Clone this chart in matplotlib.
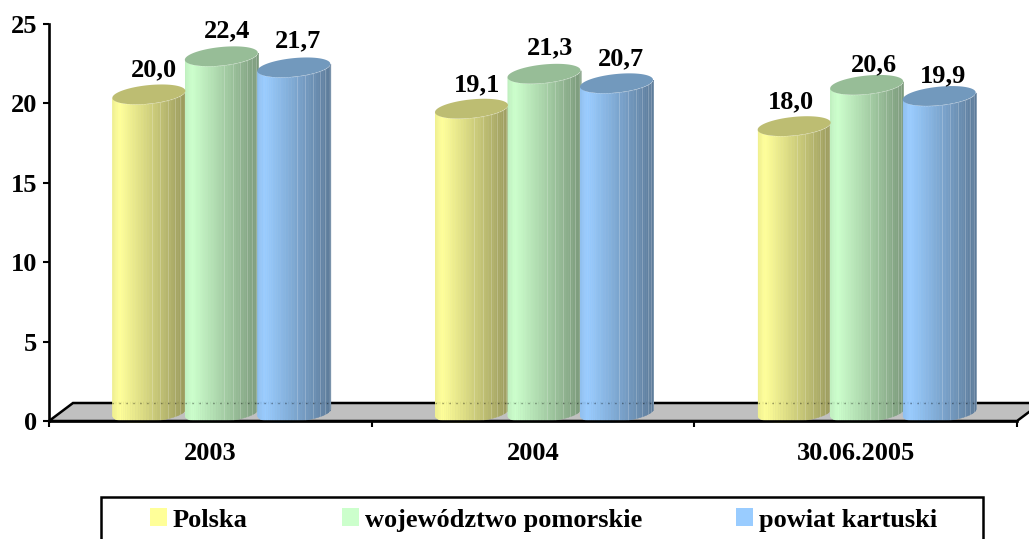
import numpy as np
import matplotlib
matplotlib.use('Agg')
import matplotlib.pyplot as plt
from matplotlib.patches import Patch, Polygon, Rectangle

W, H = 1029, 539

categories = ['2003', '2004', '30.06.2005']
series_names = ['Polska', 'województwo pomorskie', 'powiat kartuski']
polska = [20.0, 19.1, 18.0]
pomorskie = [22.4, 21.3, 20.6]
kartuski = [21.7, 20.7, 19.9]
y_ticks = [0, 5, 10, 15, 20, 25]

side_colors = ['#FFFF99', '#CCFFCC', '#99CCFF']
cap_colors = ['#BDBD72', '#97BD97', '#7299BD']

# hand placed labels in the original, nudges in points per series and category
label_dx = [[4, 4, -2], [4, 4, 5], [3, 3, 3]]
label_dy = [[6, 6, 6], [7, 7, 3], [8, 6, 3]]

plt.rcParams['font.family'] = ['Liberation Serif', 'DejaVu Serif']
plt.rcParams['font.weight'] = 'bold'
plt.rcParams['font.size'] = 19

fig = plt.figure(figsize=(W / 100, H / 100), dpi=100)
ax = fig.add_axes([49 / W, 1 - 421 / H, (1017 - 49) / W, (421 - 24) / H])
ax.set_xlim(0, 3)
ax.set_ylim(0, 25)

# pixel sizes expressed in data units
px_x = 3 / (1017 - 49)
px_y = 25 / (421 - 24)


def to_rgb_scaled(color, factor):
    return tuple(c * factor for c in matplotlib.colors.to_rgb(color))


def cylinder(cx, value, side, cap):
    # front of the cylinder as vertical facets, then the tilted top ellipse
    a = 36.5 * px_x
    b = 9.3 * px_y
    tilt = 3.5 * px_y
    base = 9 * px_y
    theta = np.linspace(np.pi, 2 * np.pi, 41)
    xs = cx + a * np.cos(theta)
    low = base + b * np.sin(theta) + tilt * np.cos(theta)
    high = value + low
    for k in range(len(theta) - 1):
        frac = (0.5 * (xs[k] + xs[k + 1]) - (cx - a)) / (2 * a)
        shade = np.interp(frac, [0, 0.1, 1], [0.94, 1.0, 0.6])
        col = to_rgb_scaled(side, shade)
        ax.fill_between(xs[k:k + 2], low[k:k + 2], high[k:k + 2], color=col,
                        lw=0.4, clip_on=False, zorder=3)
        if frac > 0.45 and k % 3 == 0:
            ax.plot([xs[k], xs[k]], [low[k], high[k]], color='white', alpha=0.2,
                    lw=0.7, clip_on=False, zorder=3)
    t = np.linspace(0, 2 * np.pi, 120)
    cap_xy = np.column_stack([cx + a * np.cos(t),
                              value + base + b * np.sin(t) + tilt * np.cos(t)])
    ax.add_patch(Polygon(cap_xy, closed=True, fc=cap, ec='none', clip_on=False, zorder=3.1))
    # back edge of the floor shows faintly through the cylinder
    ax.plot([cx - a, cx + a], [18 * px_y, 18 * px_y], color='black', alpha=0.4, lw=1.0,
            ls=(0, (1, 4)), clip_on=False, zorder=3.2)
    return value + base + b


# grey floor
floor = [(0, 0), (3, 0), (3 + 24 * px_x, 18 * px_y), (24 * px_x, 18 * px_y)]
ax.add_patch(Polygon(floor, closed=True, fc='#C0C0C0', ec='black', lw=1.8, clip_on=False, zorder=1))

series = [polska, pomorskie, kartuski]
bar_step = 72.5 * px_x
shift = 11 * px_x
for j, values in enumerate(series):
    for i, v in enumerate(values):
        cx = i + 0.5 + shift + (j - 1) * bar_step
        top = cylinder(cx, v, side_colors[j], cap_colors[j])
        ax.annotate(f'{v:.1f}'.replace('.', ','), (cx, top),
                    xytext=(label_dx[j][i], label_dy[j][i]),
                    textcoords='offset points', ha='center', va='baseline',
                    zorder=5, annotation_clip=False)

# axes
for s in ['top', 'right']:
    ax.spines[s].set_visible(False)
for s in ['left', 'bottom']:
    ax.spines[s].set_linewidth(1.9)
    ax.spines[s].set_zorder(4)
ax.patch.set_visible(False)
ax.set_yticks(y_ticks)
ax.set_xticks([0, 1, 2, 3])
ax.set_xticklabels([])
ax.set_xticks([0.5, 1.5, 2.5], minor=True)
ax.set_xticklabels(categories, minor=True)
ax.tick_params(axis='x', which='major', length=4.5, width=1.5)
ax.tick_params(axis='x', which='minor', length=0, pad=15)
ax.tick_params(axis='y', which='major', length=4.5, width=1.5, pad=4)

# legend, with its box running off the bottom of the picture
handles = [Patch(fc=c, ec='none', label=n) for c, n in zip(side_colors, series_names)]
em = 19 * 100 / 72
leg = fig.legend(handles=handles, ncol=3, loc='center left', frameon=False,
                 bbox_to_anchor=(150 / W, 1 - 520 / H), borderpad=0, borderaxespad=0,
                 handlelength=17 / em, handleheight=17 / em, handletextpad=6 / em,
                 columnspacing=94 / em)
fig.add_artist(Rectangle((101 / W, -0.02), (983 - 101) / W, 1 - 497 / H + 0.02,
                         transform=fig.transFigure, fc='none', ec='black', lw=1.8))

fig.savefig('out.png', dpi=100)
